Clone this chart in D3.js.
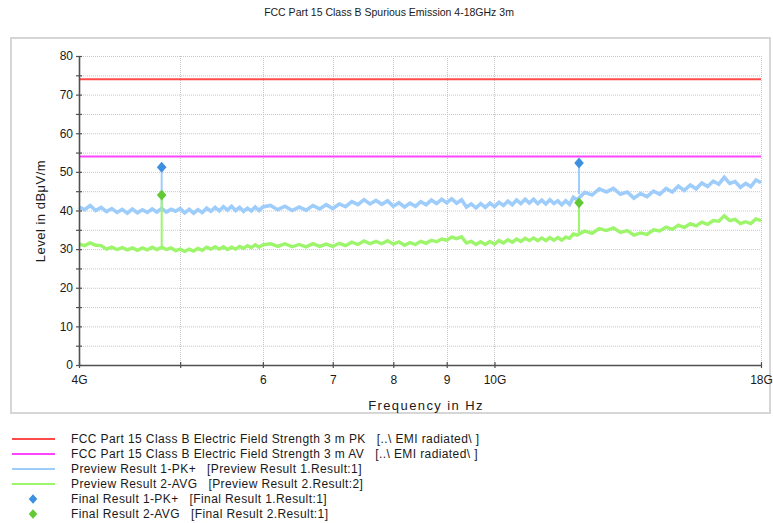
<!DOCTYPE html>
<html><head><meta charset="utf-8">
<script src="https://cdn.jsdelivr.net/npm/d3@7"></script>
<style>body{margin:0;background:#fff}svg{display:block;font-family:Arial,"Liberation Sans",sans-serif}</style>
</head><body><svg id="c" width="773" height="523"></svg>
<script>
const chartTitle = "FCC Part 15 Class B Spurious Emission 4-18GHz 3m";
const xTitle = "Frequency in Hz";
const yTitle = "Level in dBμV/m";

// frequency grid of the preview scans (GHz)
const freqGHz = [
 4.00,4.05,4.10,4.15,4.20,4.25,4.30,4.35,4.40,4.45,4.50,4.55,4.60,4.65,4.70,4.75,4.80,4.85,4.90,4.95,
 5.00,5.05,5.10,5.15,5.20,5.25,5.30,5.35,5.40,5.45,5.50,5.55,5.60,5.65,5.70,5.75,5.80,5.85,5.90,5.95,6.00,
 6.1,6.2,6.3,6.4,6.5,6.6,6.7,6.8,6.9,7.0,7.1,7.2,7.3,7.4,7.5,7.6,7.7,7.8,7.9,8.0,
 8.1,8.2,8.3,8.4,8.5,8.6,8.7,8.8,8.9,9.0,9.1,9.2,9.3,9.4,9.5,9.6,9.7,9.8,9.9,10.0,
 10.1,10.2,10.3,10.4,10.5,10.6,10.7,10.8,10.9,11.0,11.1,11.2,11.3,11.4,11.5,11.6,11.7,11.8,11.9,12.0,
 12.2,12.4,12.6,12.8,13.0,13.2,13.4,13.6,13.8,14.0,14.2,14.4,14.6,14.8,15.0,15.2,15.4,15.6,15.8,16.0,
 16.2,16.4,16.6,16.8,17.0,17.2,17.4,17.6,17.8,18.0
];
// Preview Result 1-PK+ (dBµV/m)
const previewPK = [
 40.9,40.2,41.3,40.0,40.8,39.7,40.5,39.5,40.3,39.3,40.4,39.4,40.2,39.5,40.4,39.6,40.5,39.6,40.3,39.8,
 40.5,39.4,40.3,39.3,40.2,39.5,40.6,39.8,40.8,39.9,41.0,40.1,41.1,40.0,40.8,39.8,40.6,39.9,40.9,40.0,40.9,
 41.3,40.2,41.1,40.0,40.9,40.1,41.3,40.4,41.5,40.5,41.7,41.0,42.3,41.5,42.8,41.7,42.6,41.6,42.5,41.1,
 42.0,40.9,41.9,41.1,42.3,41.5,42.7,41.8,42.9,42.0,43.0,41.9,42.8,40.9,41.7,40.7,41.8,40.8,41.9,41.0,
 42.1,41.3,42.4,41.5,42.7,41.8,42.9,41.9,42.9,41.8,42.7,41.7,42.8,41.8,42.5,41.5,42.5,41.6,43.4,42.8,
 44.7,44.0,45.6,44.8,45.7,44.2,44.8,43.2,44.4,43.6,45.0,44.2,45.7,44.8,46.3,45.2,46.6,45.6,47.1,46.2,
 47.6,46.8,48.6,47.0,47.5,46.0,47.0,46.2,47.9,47.2
];
// Preview Result 2-AVG (dBµV/m)
const previewAVG = [
 31.3,30.9,31.6,31.0,30.9,30.0,30.5,29.9,30.4,29.8,30.3,29.7,30.3,29.8,30.5,29.9,30.5,29.9,30.3,29.6,
 30.0,29.4,30.0,29.5,30.2,29.7,30.5,30.0,30.6,30.0,30.6,29.9,30.5,30.0,30.7,30.2,30.9,30.4,31.1,30.5,31.1,
 31.4,30.7,31.4,30.6,31.2,30.6,31.4,30.7,31.3,30.7,31.5,30.9,31.8,31.2,32.1,31.4,32.0,31.4,32.2,31.3,
 31.9,31.0,31.7,31.2,32.0,31.5,32.3,31.9,32.6,32.3,33.1,32.7,33.2,31.6,32.0,31.2,31.9,31.2,32.0,31.3,
 32.2,31.6,32.4,31.8,32.6,32.0,32.8,32.2,32.9,32.2,32.9,32.2,33.0,32.3,33.0,32.3,33.1,32.8,33.9,33.6,
 34.7,34.1,35.3,34.8,35.5,34.3,34.8,33.6,34.2,33.8,35.0,34.7,35.7,35.1,36.2,35.6,36.6,36.0,37.0,36.4,
 37.4,37.2,38.6,37.4,37.7,36.6,37.1,36.6,37.8,37.4
];
// limit lines
const limitFreq = [4, 18];
const limitPK = [74, 74];
const limitAV = [54, 54];
// final measurements
const finalFreq = [4.8, 12.05];
const finalPK = [51.2, 52.3];
const finalAVG = [44.0, 42.0];
const stemBasePK = [40.0, 44.2];
const stemBaseAVG = [30.5, 34.0];
// ticks
const yTickValues = [0,5,10,15,20,25,30,35,40,45,50,55,60,65,70,75,80];
const yTickLabels = ["0","","10","","20","","30","","40","","50","","60","","70","","80"];
const xTickValues = [4,5,6,7,8,9,10,18];
const xTickLabels = ["4G","","6","7","8","9","10G","18G"];
const xGridValues = [5,6,7,8,9,10,18];
// legend
const legendNames = [
 "FCC Part 15 Class B Electric Field Strength 3 m PK",
 "FCC Part 15 Class B Electric Field Strength 3 m AV",
 "Preview Result 1-PK+",
 "Preview Result 2-AVG",
 "Final Result 1-PK+",
 "Final Result 2-AVG"
];
const legendSources = [
 "[..\\ EMI radiated\\ ]",
 "[..\\ EMI radiated\\ ]",
 "[Preview Result 1.Result:1]",
 "[Preview Result 2.Result:2]",
 "[Final Result 1.Result:1]",
 "[Final Result 2.Result:1]"
];
const legendKinds = ["line","line","line","line","diamond","diamond"];

const C = {pk:"#ff4a4a", av:"#ff44ff", pvPK:"#9fcdfb", pvAVG:"#9cf56a", fPK:"#3d8fdf", fAVG:"#62c934",
           axis:"#505050", grid:"#c6c6c6", frame:"#d6d6d6", text:"#1a1a1a"};

const svg = d3.select("#c");
const x = d3.scaleLog().domain([4,18]).range([79,761]);
const y = d3.scaleLinear().domain([0,80]).range([365,56]);

// outer frame
svg.append("rect").attr("x",11).attr("y",38).attr("width",759).attr("height",375)
  .attr("fill","none").attr("stroke",C.frame).attr("stroke-width",2);

// title
svg.append("text").attr("x",389).attr("y",16).attr("text-anchor","middle")
  .attr("font-size",10.5).attr("fill",C.text).text(chartTitle);

// grid
const g = svg.append("g");
g.selectAll(".hg").data(yTickValues.filter(v=>v>0)).join("line")
  .attr("x1",79).attr("x2",761).attr("y1",d=>y(d)+0.5).attr("y2",d=>y(d)+0.5)
  .attr("stroke",C.grid).attr("stroke-dasharray","1,1");
g.selectAll(".vg").data(xGridValues).join("line")
  .attr("x1",d=>Math.round(x(d))+0.5).attr("x2",d=>Math.round(x(d))+0.5).attr("y1",56).attr("y2",365)
  .attr("stroke",C.grid).attr("stroke-dasharray","1,1");

// limit lines
const lim = d3.line().x(d=>x(d[0])).y(d=>y(d[1]));
svg.append("path").datum(limitFreq.map((f,i)=>[f,limitPK[i]])).attr("d",lim)
  .attr("stroke",C.pk).attr("stroke-width",2).attr("fill","none");
svg.append("path").datum(limitFreq.map((f,i)=>[f,limitAV[i]])).attr("d",lim)
  .attr("stroke",C.av).attr("stroke-width",2).attr("fill","none");

// preview traces
svg.append("path").datum(freqGHz.map((f,i)=>[f,previewPK[i]])).attr("d",lim)
  .attr("stroke",C.pvPK).attr("stroke-width",3.6).attr("fill","none").attr("stroke-linejoin","miter");
svg.append("path").datum(freqGHz.map((f,i)=>[f,previewAVG[i]])).attr("d",lim)
  .attr("stroke",C.pvAVG).attr("stroke-width",3.4).attr("fill","none").attr("stroke-linejoin","miter");

// stems
svg.selectAll(".sp").data(finalFreq).join("line")
  .attr("x1",d=>x(d)).attr("x2",d=>x(d)).attr("y1",(d,i)=>y(finalPK[i])).attr("y2",(d,i)=>y(stemBasePK[i]))
  .attr("stroke",C.pvPK).attr("stroke-width",2);
svg.selectAll(".sa").data(finalFreq).join("line")
  .attr("x1",d=>x(d)).attr("x2",d=>x(d)).attr("y1",(d,i)=>y(finalAVG[i])).attr("y2",(d,i)=>y(stemBaseAVG[i]))
  .attr("stroke",C.pvAVG).attr("stroke-width",2);

function diamond(w,h){return `M0,${-h}L${w},0L0,${h}L${-w},0Z`;}
svg.selectAll(".mp").data(finalFreq).join("path")
  .attr("d",diamond(4.8,5.4)).attr("transform",(d,i)=>`translate(${x(d)},${y(finalPK[i])})`).attr("fill",C.fPK);
svg.selectAll(".ma").data(finalFreq).join("path")
  .attr("d",diamond(4.8,5.4)).attr("transform",(d,i)=>`translate(${x(d)},${y(finalAVG[i])})`).attr("fill",C.fAVG);

// axes
const ya = svg.append("g").attr("transform","translate(79,0)")
  .call(d3.axisLeft(y).tickValues(yTickValues).tickFormat((d,i)=>yTickLabels[i]).tickSize(3).tickPadding(3).tickSizeOuter(0));
ya.selectAll(".tick line").attr("x1",3).attr("x2",-3);
const xa = svg.append("g").attr("transform","translate(0,365)")
  .call(d3.axisBottom(x).tickValues(xTickValues).tickFormat((d,i)=>xTickLabels[i]).tickSize(3).tickPadding(7).tickSizeOuter(0));
xa.selectAll(".tick line").attr("y1",-3).attr("y2",3);
[ya,xa].forEach(a=>{
  a.select(".domain").attr("stroke",C.axis).attr("stroke-width",1.6);
  a.selectAll(".tick line").attr("stroke",C.axis).attr("stroke-width",1.2);
  a.selectAll("text").attr("font-size",12).attr("fill",C.text).attr("font-family","Arial,'Liberation Sans',sans-serif");
});

// axis titles
svg.append("text").attr("x",426).attr("y",410).attr("text-anchor","middle")
  .attr("font-size",13).attr("letter-spacing","1.4px").attr("fill",C.text).text(xTitle);
svg.append("text").attr("transform","translate(45,211) rotate(-90)").attr("text-anchor","middle")
  .attr("font-size",13).attr("letter-spacing","0.5px").attr("fill",C.text).text(yTitle);

// legend
const legColors = [C.pk,C.av,C.pvPK,C.pvAVG,C.fPK,C.fAVG];
const lg = svg.append("g");
legendNames.forEach((name,i)=>{
  const yy = 439 + i*15;
  if(legendKinds[i]==="line"){
    lg.append("line").attr("x1",12).attr("x2",55).attr("y1",yy).attr("y2",yy)
      .attr("stroke",legColors[i]).attr("stroke-width",2);
  } else {
    lg.append("path").attr("d",diamond(4.3,4.8)).attr("transform",`translate(33,${yy})`).attr("fill",legColors[i]);
  }
  const t = lg.append("text").attr("x",71).attr("y",yy+4.3).attr("font-size",12)
    .attr("letter-spacing","0.4px").attr("fill",C.text);
  t.append("tspan").text(name);
  t.append("tspan").attr("dx",11).text(legendSources[i]);
});
</script></body></html>
